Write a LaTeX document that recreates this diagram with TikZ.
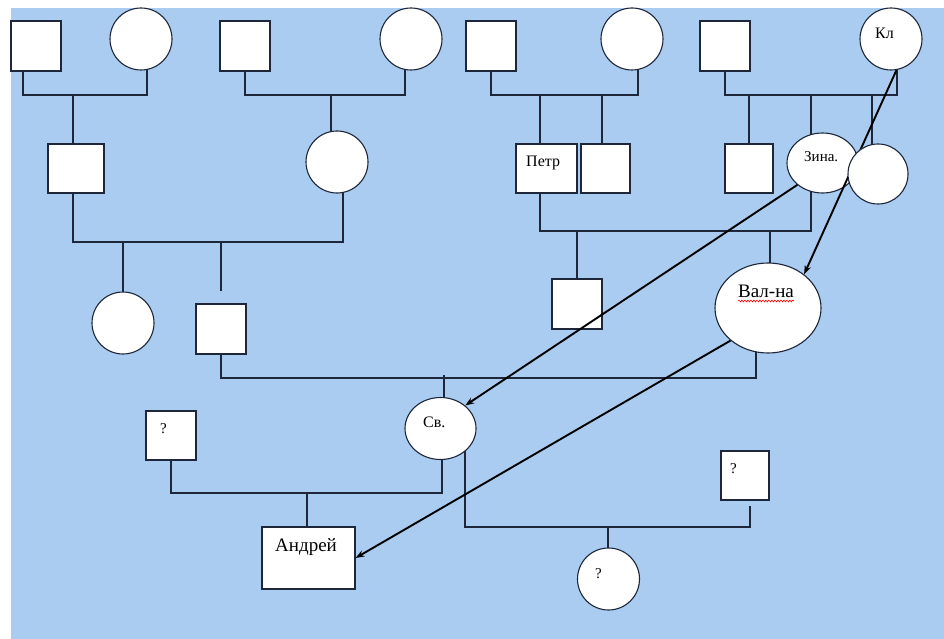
\documentclass[tikz,border=0pt]{standalone}
\usepackage{fontspec}
\setmainfont{Liberation Serif}
\usepackage{tikz}
\usetikzlibrary{arrows.meta}
\usetikzlibrary{shapes.geometric}
\usetikzlibrary{decorations.pathmorphing}
\definecolor{sky}{RGB}{169,204,240}
\definecolor{ink}{RGB}{30,38,58}
\pgfdeclarelayer{back}
\pgfsetlayers{back,main}

\begin{document}
\begin{tikzpicture}[x=1pt, y=-1pt,
	male/.style={rectangle, draw=ink, fill=white, line width=1.1pt, inner sep=0pt, minimum width=50pt, minimum height=50pt},
	female/.style={circle, draw=ink, fill=white, line width=1.1pt, inner sep=0pt, minimum size=62pt},
	oval/.style={ellipse, draw=ink, fill=white, line width=1.1pt, inner sep=0pt},
	tag/.style={inner sep=0pt, anchor=base west, font=\fontsize{16}{19}\selectfont},
	link/.style={draw=ink, line width=1.5pt},
	arr/.style={draw=black, line width=1.9pt, -{Stealth[length=9pt,width=6.5pt]}}]
	\useasboundingbox (0,0) rectangle (944,639);

	\node[male] (m1) at (36,46) {};
	\node[female] (f1) at (141,39) {};
	\node[male] (m2) at (245,46) {};
	\node[female] (f2) at (411,39) {};
	\node[male] (m3) at (491,46) {};
	\node[female] (f3) at (632,39) {};
	\node[male] (m4) at (725,46) {};
	\node[female] (kl) at (891,39) {};
	\node[tag] (kl-t) at (875,39) {Кл};

	\node[male, minimum width=56pt, minimum height=49pt] (m5) at (76,168.5) {};
	\node[female] (f4) at (337,162) {};
	\node[male, minimum width=61pt, minimum height=49pt] (petr) at (546.5,168.5) {};
	\node[tag] (petr-t) at (526,167) {Петр};
	\node[male, minimum width=49pt, minimum height=49pt] (m6) at (605.5,168.5) {};
	\node[male, minimum width=48pt, minimum height=49pt] (m7) at (749,168.5) {};
	\node[oval, minimum width=71pt, minimum height=60pt] (zina) at (822.5,163) {};
	\node[tag, font=\fontsize{15}{18}\selectfont] (zina-t) at (804,161) {Зина.};

	\node[female] (f6) at (123,323) {};
	\node[male] (m8) at (221,329) {};
	\node[male] (m9) at (577,304) {};
	\node[oval, minimum width=106pt, minimum height=90pt] (valna) at (768,308) {};
	\node[tag, font=\fontsize{19}{22}\selectfont] (valna-t) at (738,297) {Вал-на};
	\draw[red, line width=0.6pt, decorate, decoration={snake, amplitude=0.9pt, segment length=3pt}]
		([yshift=-4pt]valna-t.base west) -- ([yshift=-4pt]valna-t.base east);

	\node[male, minimum height=49pt] (q1) at (171,435.5) {};
	\node[tag, font=\fontsize{15}{18}\selectfont] (q1-t) at (160,433) {?};
	\node[oval, minimum width=71pt, minimum height=62pt] (sv) at (440.5,428.5) {};
	\node[tag] (sv-t) at (423,427) {Св.};
	\node[male, minimum width=48pt, minimum height=49pt] (q2) at (745,475.5) {};
	\node[tag, font=\fontsize{15}{18}\selectfont] (q2-t) at (730,473) {?};
	\node[male, minimum width=93pt, minimum height=62pt] (andrey) at (308.5,558) {};
	\node[tag, font=\fontsize{19}{22}\selectfont] (andrey-t) at (275,551) {Андрей};
	\node[female] (q3) at (608.5,579) {};
	\node[tag, font=\fontsize{15}{18}\selectfont] (q3-t) at (595,578) {?};

	\draw[arr] (zina.221) -- (sv.43);
	\draw[arr] (valna.221) -- (andrey.east);
	\draw[arr] (kl.280) -- (valna.43);
	\node[female, minimum size=60pt] (f5) at (878,174) {};

	\begin{pgfonlayer}{back}
	\fill[white] (0,0) rectangle (944,639);
	\fill[sky] (11,8) rectangle (944,639);
	\draw[link] (m1.center) ++(-13,0) -- ++(0,49) -| ([xshift=6pt]f1.center);
	\draw[link] (m5.center) ++(-3,0) -- ++(0,-73.5);
	\draw[link] (m2.center) -- ++(0,49) -| ([xshift=-6pt]f2.center);
	\draw[link] (f4.center) ++(-6,0) -- ++(0,-67);
	\draw[link] (m3.center) -- ++(0,49) -| ([xshift=6pt]f3.center);
	\draw[link] (petr.center) ++(-6.5,0) -- ++(0,-73.5);
	\draw[link] (m6.center) ++(-3.5,0) -- ++(0,-73.5);
	\draw[link] (m4.center) -- ++(0,49) -| ([xshift=6pt]kl.center);
	\draw[link] (m7.center) -- ++(0,-73.5);
	\draw[link] (zina.center) ++(-11.5,0) -- ++(0,-68);
	\draw[link] (f5.center) ++(-6,0) -- ++(0,-79);

	\draw[link] (m5.center) ++(-3,0) -- ++(0,73.5) -| ([xshift=6pt]f4.center);
	\draw[link] (f6.center) -- ++(0,-81);
	\draw[link] (m8.north) ++(0,-12) -- ++(0,-50);
	\draw[link] (petr.center) ++(-6.5,0) -- ++(0,62.5) -| ([xshift=-11.5pt]zina.center);
	\draw[link] (m9.center) -- ++(0,-73);
	\draw[link] (valna.center) ++(2,0) -- ++(0,-77);

	\draw[link] (m8.center) -- ++(0,49) -| ([xshift=-12pt]valna.center);
	\draw[link] (sv.center) ++(3.5,0) -- ++(0,-53.5);
	\draw[link] (q1.center) -- ++(0,57.5) -| ([xshift=1.5pt]sv.center);
	\draw[link] (andrey.center) ++(-1.5,0) -- ++(0,-65);
	\draw[link] (sv.center) ++(24.5,0) -- ++(0,98.5) -| ([xshift=5pt,yshift=-5pt]q2.south);
	\draw[link] (q3.center) ++(-0.5,0) -- ++(0,-52);
	\end{pgfonlayer}
\end{tikzpicture}
\end{document}
